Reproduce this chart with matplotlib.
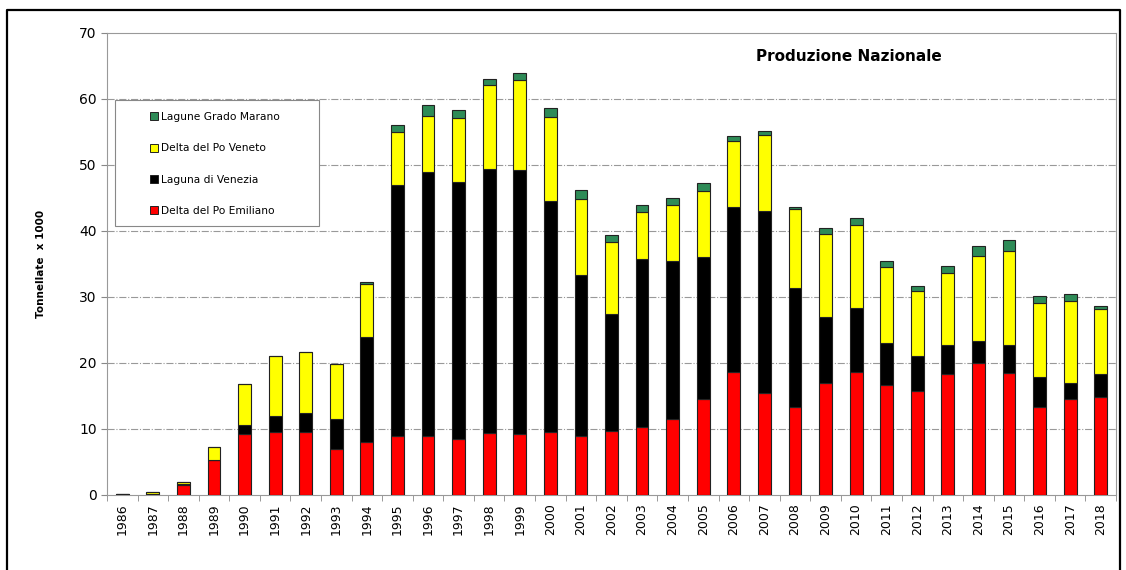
import numpy as np
import matplotlib.pyplot as plt
from matplotlib.lines import Line2D
from matplotlib.patches import Rectangle

years = [str(y) for y in range(1986, 2019)]

# cumulative tops (tonnellate x 1000)
red_top = [0.05, 0.05, 1.5, 5.3, 9.3, 9.5, 9.5, 7.0, 8.0, 9.0, 9.0, 8.5, 9.4, 9.3, 9.5,
           9.0, 9.7, 10.3, 11.5, 14.6, 18.7, 15.5, 13.4, 17.0, 18.7, 16.7, 15.8, 18.4,
           20.0, 18.5, 13.4, 14.6, 14.8]
black_top = [0.1, 0.1, 1.6, 5.3, 10.6, 12.0, 12.5, 11.5, 24.0, 47.0, 49.0, 47.5, 49.4, 49.3,
             44.5, 33.4, 27.5, 35.8, 35.5, 36.1, 43.7, 43.0, 31.4, 27.0, 28.3, 23.0, 21.0,
             22.7, 23.3, 22.8, 17.9, 17.0, 18.3]
yellow_top = [0.1, 0.4, 1.9, 7.2, 16.8, 21.1, 21.7, 19.8, 32.0, 55.0, 57.5, 57.1, 62.1, 62.9,
              57.3, 44.9, 38.4, 42.9, 43.9, 46.1, 53.7, 54.5, 43.3, 39.5, 40.9, 34.5, 30.9,
              33.7, 36.2, 37.0, 29.1, 29.4, 28.2]
green_top = [0.1, 0.4, 2.0, 7.2, 16.8, 21.1, 21.7, 19.9, 32.2, 56.0, 59.1, 58.4, 63.0, 63.9,
             58.6, 46.2, 39.4, 43.9, 45.0, 47.3, 54.4, 55.2, 43.6, 40.4, 41.9, 35.5, 31.6,
             34.7, 37.7, 38.6, 30.1, 30.4, 28.7]

red = np.array(red_top)
black = np.array(black_top) - red
yellow = np.array(yellow_top) - np.array(black_top)
green = np.array(green_top) - np.array(yellow_top)

W, H = 1126, 570
fig = plt.figure(figsize=(W/100, H/100), dpi=100)
ax = fig.add_axes([107/W, 1 - 495/H, (1116 - 107)/W, (495 - 33)/H])

x = np.arange(len(years))
w = 0.42
kw = dict(width=w, edgecolor='#222222', linewidth=0.8, zorder=3)
ax.bar(x, red, color='#ff0000', **kw)
ax.bar(x, black, bottom=red, color='#000000', **kw)
ax.bar(x, yellow, bottom=red + black, color='#ffff00', **kw)
ax.bar(x, green, bottom=red + black + yellow, color='#2e8b57', **kw)

ax.set_xlim(-0.5, len(years) - 0.5)
ax.set_ylim(0, 70)
ax.set_yticks(range(0, 71, 10))
ax.set_xticks(x)
ax.set_xticklabels(years, rotation=90, fontsize=9)
ax.tick_params(axis='x', length=0, pad=6)
ax.set_xticks(np.arange(-0.5, len(years), 1), minor=True)
ax.tick_params(axis='x', which='minor', length=4, color='#888888', direction='out')
ax.tick_params(axis='y', labelsize=10, length=4, color='#888888')
for v in range(10, 70, 10):
    ax.axhline(v, color='#999999', lw=0.8, ls='-.', zorder=1)
for s in ax.spines.values():
    s.set_color('#999999')

ax.set_ylabel('Tonnellate  x 1000', fontsize=7.5, fontweight='bold', labelpad=24)
ax.text(0.735, 0.965, 'Produzione Nazionale', transform=ax.transAxes, ha='center', va='top',
        fontsize=11, fontweight='bold')

# legend box drawn by hand, entries inside it
fig.add_artist(Rectangle((115/W, 1 - 226/H), (319 - 115)/W, (226 - 100)/H,
                         transform=fig.transFigure, facecolor='white', edgecolor='#888888',
                         lw=0.8, zorder=4))
handles = [Line2D([], [], marker='s', ls='', markersize=6, markerfacecolor=c,
                  markeredgecolor='#222222', markeredgewidth=0.7)
           for c in ['#2e8b57', '#ffff00', '#000000', '#ff0000']]
labels = ['Lagune Grado Marano', 'Delta del Po Veneto', 'Laguna di Venezia', 'Delta del Po Emiliano']
leg = fig.legend(handles, labels, loc='upper left', bbox_to_anchor=(150/W, 1 - 112/H),
                 fontsize=7.7, labelspacing=2.0, handlelength=0.8, handletextpad=0.2,
                 borderpad=0, borderaxespad=0, frameon=False)
leg.set_zorder(5)

# outer black frame
fig.add_artist(Line2D([7/W, 7/W, 1120/W, 1120/W], [0, 1 - 10/H, 1 - 10/H, 0],
                      color='black', lw=1.6, transform=fig.transFigure))

fig.savefig('out.png', dpi=100)
